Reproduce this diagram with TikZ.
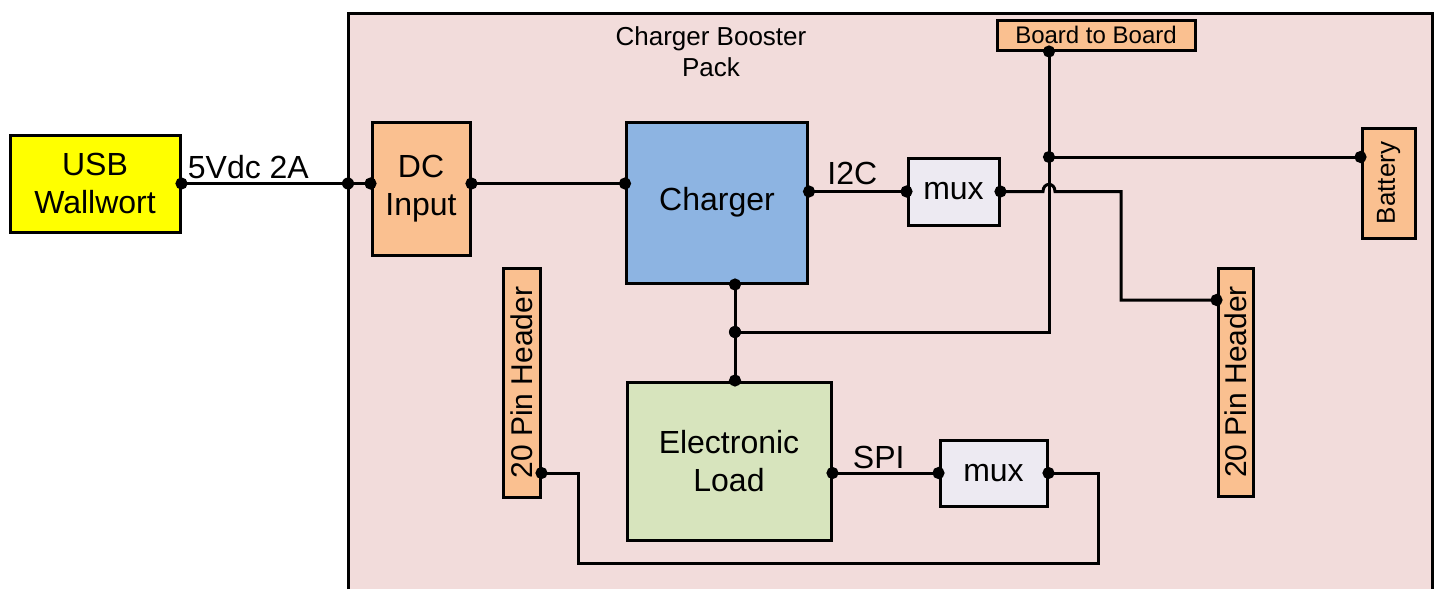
\documentclass[tikz,border=0pt]{standalone}
\usepackage{fontspec}
\setmainfont{Liberation Sans}
\usepackage{graphicx}
\usepackage{tikz}
\usetikzlibrary{arrows.meta,positioning,calc}

\definecolor{boardc}{HTML}{F2DCDB}
\definecolor{portc}{HTML}{FAC090}
\definecolor{wallc}{HTML}{FFFF00}
\definecolor{chgc}{HTML}{8DB4E2}
\definecolor{loadc}{HTML}{D7E4BD}
\definecolor{muxc}{HTML}{EDEAF2}

\begin{document}
\begin{tikzpicture}[
  x=0.5pt, y=-0.5pt,
  font=\fontsize{16}{19}\selectfont,
  blk/.style={draw, line width=1.5pt, inner sep=0pt, align=center},
  port/.style={blk, fill=portc},
  muxbox/.style={blk, fill=muxc},
  wire/.style={line width=1.5pt, {Circle[length=6pt]}-{Circle[length=6pt]},
    shorten <=-3pt, shorten >=-3pt},
  lbl/.style={inner sep=1pt},
]
\useasboundingbox (0,0) rectangle (1440,589);

% board outline, runs off the bottom
\fill[boardc] (348,13) rectangle (1432,589);
\draw[line width=1.5pt] (348,589) |- (1432,13) -- (1432,589);
\node[font=\fontsize{13}{15.5}\selectfont, align=center] (title) at (711,52)
  {Charger Booster\\Pack};

\node[blk, fill=wallc, minimum width=85pt, minimum height=48.5pt] (usb) at (95,183.5) {USB\\Wallwort};
\node[port, minimum width=49pt, minimum height=66.5pt] (dc) at (421,188.5) {DC\\Input};
\node[blk, fill=chgc, minimum width=90.5pt, minimum height=80.5pt] (chg) at (717,202.5) {Charger};
\node[muxbox, minimum width=45.5pt, minimum height=33.5pt] (mux1) at (953.5,191.5) {mux};
\node[port, font=\fontsize{12}{14}\selectfont, minimum width=99pt, minimum height=15pt] (b2b) at (1096,35) {Board to Board};
\node[port, font=\fontsize{13}{15}\selectfont, minimum width=26.5pt, minimum height=55pt] (batt) at (1388.5,183) {\rotatebox{90}{Battery}};
\node[port, font=\fontsize{15}{17}\selectfont, minimum width=17.5pt, minimum height=114pt] (rhdr) at (1235.5,382) {\rotatebox{90}{20 Pin Header}};
\node[port, font=\fontsize{15}{17}\selectfont, minimum width=18.5pt, minimum height=114.5pt] (lhdr) at (521.5,382.5) {\rotatebox{90}{20 Pin Header}};
\node[blk, fill=loadc, minimum width=102pt, minimum height=79pt] (load) at (729,461) {Electronic\\Load};
\node[muxbox, minimum width=53.5pt, minimum height=33pt] (mux2) at (993.5,473) {mux};

\coordinate (edge) at (usb.east -| 348,0);
\coordinate (cj) at (735,332);
\coordinate (bj) at (1049,157);
\coordinate (bpin) at (b2b.south -| bj);
\coordinate (rpin) at ($(rhdr.west)+(0,-82)$);
\coordinate (lpin) at (lhdr.east |- mux2.east);

% power in
\draw[wire] (usb.east) -- (usb.east -| dc.west);
\fill (edge) circle (3pt);
\node[lbl, above right=1pt and 2pt of usb.east] (vin) {5Vdc 2A};
\draw[wire] (dc.east |- usb.east) -- (chg.west |- usb.east);

% buses
\draw[wire] (chg.east |- mux1.west) -- (mux1.west);
\node[lbl, above right=2pt and 8pt of chg.east |- mux1.west] (i2c) {I2C};
\draw[wire] (load.east |- mux2.west) -- (mux2.west);
\node[lbl, above right=1pt and 9pt of load.east |- mux2.west] (spi) {SPI};

\draw[wire] (mux1.east) -- (1043,191.5)
  .. controls (1043,182) and (1055,182) .. (1055,191.5)
  -- (1121,191.5) |- (rpin);
\draw[wire] (mux2.east) -- ++(50,0) |- ++(-520,90) |- (lpin);

% charger / load / board to board
\draw[wire] (chg.south -| cj) -- (load.north -| cj);
\fill (cj) circle (3pt);
\draw[wire] (bpin) |- (cj);
\draw[wire] (bj) -- (bj -| batt.west);
\end{tikzpicture}
\end{document}
